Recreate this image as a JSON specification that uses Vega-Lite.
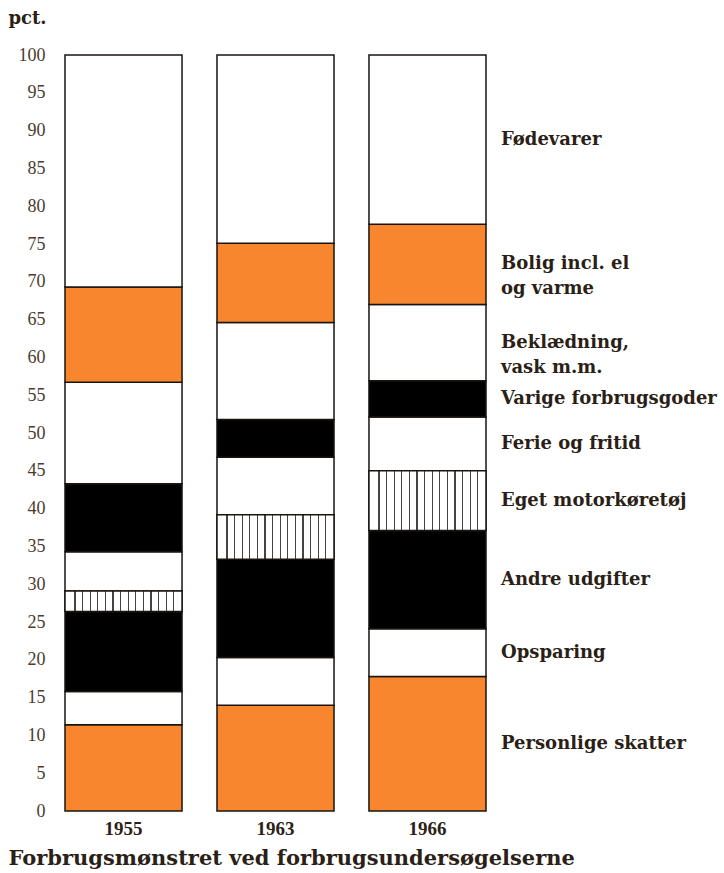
{
  "$schema": "https://vega.github.io/schema/vega-lite/v6.json",
  "width": 421,
  "height": 756,
  "autosize": {"type": "none"},
  "padding": {"left": 65, "top": 55, "right": 238, "bottom": 62},
  "background": "white",
  "config": {
    "view": {"stroke": null},
    "axisY": {
      "tickCount": 20,
      "labelOverlap": false,
      "labelBound": false,
      "labelFlush": false,
      "labelFont": "Liberation Serif",
      "labelFontSize": 18,
      "labelColor": "#4a3b2f",
      "labelPadding": 20,
      "domain": false,
      "ticks": false,
      "grid": false,
      "titleFont": "DejaVu Serif",
      "titleFontWeight": "bold",
      "titleFontSize": 18,
      "titleColor": "#2b1f17",
      "titleAngle": 0,
      "titleX": -57,
      "titleY": -37,
      "titleAlign": "left",
      "titleBaseline": "middle"
    }
  },
  "data": {
    "values": [
      {"year": "1955", "kategori": "Personlige skatter", "rank": 1, "value": 11.4},
      {"year": "1955", "kategori": "Opsparing", "rank": 2, "value": 4.4},
      {"year": "1955", "kategori": "Andre udgifter", "rank": 3, "value": 10.6},
      {"year": "1955", "kategori": "Eget motorkøretøj", "rank": 4, "value": 2.7},
      {"year": "1955", "kategori": "Ferie og fritid", "rank": 5, "value": 5.2},
      {"year": "1955", "kategori": "Varige forbrugsgoder", "rank": 6, "value": 9.0},
      {"year": "1955", "kategori": "Beklædning,\nvask m.m.", "rank": 7, "value": 13.4},
      {"year": "1955", "kategori": "Bolig incl. el\nog varme", "rank": 8, "value": 12.6},
      {"year": "1955", "kategori": "Fødevarer", "rank": 9, "value": 30.7},
      {"year": "1963", "kategori": "Personlige skatter", "rank": 1, "value": 14.0},
      {"year": "1963", "kategori": "Opsparing", "rank": 2, "value": 6.3},
      {"year": "1963", "kategori": "Andre udgifter", "rank": 3, "value": 13.0},
      {"year": "1963", "kategori": "Eget motorkøretøj", "rank": 4, "value": 5.9},
      {"year": "1963", "kategori": "Ferie og fritid", "rank": 5, "value": 7.6},
      {"year": "1963", "kategori": "Varige forbrugsgoder", "rank": 6, "value": 5.0},
      {"year": "1963", "kategori": "Beklædning,\nvask m.m.", "rank": 7, "value": 12.8},
      {"year": "1963", "kategori": "Bolig incl. el\nog varme", "rank": 8, "value": 10.5},
      {"year": "1963", "kategori": "Fødevarer", "rank": 9, "value": 24.9},
      {"year": "1966", "kategori": "Personlige skatter", "rank": 1, "value": 17.8},
      {"year": "1966", "kategori": "Opsparing", "rank": 2, "value": 6.3},
      {"year": "1966", "kategori": "Andre udgifter", "rank": 3, "value": 13.0},
      {"year": "1966", "kategori": "Eget motorkøretøj", "rank": 4, "value": 7.9},
      {"year": "1966", "kategori": "Ferie og fritid", "rank": 5, "value": 7.1},
      {"year": "1966", "kategori": "Varige forbrugsgoder", "rank": 6, "value": 4.8},
      {"year": "1966", "kategori": "Beklædning,\nvask m.m.", "rank": 7, "value": 10.1},
      {"year": "1966", "kategori": "Bolig incl. el\nog varme", "rank": 8, "value": 10.6},
      {"year": "1966", "kategori": "Fødevarer", "rank": 9, "value": 22.4}
    ]
  },
  "transform": [
    {"stack": "value", "groupby": ["year"], "sort": [{"field": "rank", "order": "ascending"}], "as": ["y0", "y1"]}
  ],
  "encoding": {
    "x": {
      "field": "year",
      "type": "nominal",
      "sort": ["1955", "1963", "1966"],
      "scale": {"paddingInner": 0.23, "paddingOuter": 0},
      "axis": {
        "title": "Forbrugsmønstret ved forbrugsundersøgelserne",
        "titleFont": "DejaVu Serif",
        "titleFontWeight": "bold",
        "titleFontSize": 21,
        "titleColor": "#2b1f17",
        "titleX": -57,
        "titleY": 47,
        "titleAlign": "left",
        "titleBaseline": "middle",
        "labelAngle": 0,
        "labelFont": "Liberation Serif",
        "labelFontWeight": "bold",
        "labelFontSize": 19,
        "labelColor": "#2b1f17",
        "labelPadding": 8,
        "domain": false,
        "ticks": false,
        "grid": false
      }
    }
  },
  "layer": [
    {
      "mark": {"type": "bar", "stroke": "#1a1410", "strokeWidth": 1.5},
      "encoding": {
        "y": {
          "field": "y0",
          "type": "quantitative",
          "title": "pct.",
          "scale": {"domain": [0, 100], "nice": false}
        },
        "y2": {"field": "y1"},
        "fill": {
          "field": "kategori",
          "type": "nominal",
          "scale": {
            "domain": ["Personlige skatter", "Opsparing", "Andre udgifter", "Eget motorkøretøj", "Ferie og fritid", "Varige forbrugsgoder", "Beklædning,\nvask m.m.", "Bolig incl. el\nog varme", "Fødevarer"],
            "range": ["#f7862f", "#ffffff", "#000000", "#ffffff", "#ffffff", "#000000", "#ffffff", "#f7862f", "#ffffff"]
          },
          "legend": null
        }
      }
    },
    {
      "transform": [{"filter": "datum.kategori === 'Eget motorkøretøj'"}],
      "mark": {
        "type": "bar",
        "stroke": "#1a1410",
        "strokeWidth": 1.5,
        "fill": {
          "gradient": "linear", "x1": 0, "x2": 1, "y1": 0, "y2": 0,
          "stops": [
            {"offset": 0, "color": "#ffffff"},
            {"offset": 0.0805, "color": "#ffffff"}, {"offset": 0.0805, "color": "#444444"}, {"offset": 0.0905, "color": "#444444"}, {"offset": 0.0905, "color": "#ffffff"},
            {"offset": 0.1454, "color": "#ffffff"}, {"offset": 0.1454, "color": "#444444"}, {"offset": 0.1554, "color": "#444444"}, {"offset": 0.1554, "color": "#ffffff"},
            {"offset": 0.2104, "color": "#ffffff"}, {"offset": 0.2104, "color": "#444444"}, {"offset": 0.2204, "color": "#444444"}, {"offset": 0.2204, "color": "#ffffff"},
            {"offset": 0.2753, "color": "#ffffff"}, {"offset": 0.2753, "color": "#444444"}, {"offset": 0.2853, "color": "#444444"}, {"offset": 0.2853, "color": "#ffffff"},
            {"offset": 0.3403, "color": "#ffffff"}, {"offset": 0.3403, "color": "#444444"}, {"offset": 0.3503, "color": "#444444"}, {"offset": 0.3503, "color": "#ffffff"},
            {"offset": 0.4053, "color": "#ffffff"}, {"offset": 0.4053, "color": "#444444"}, {"offset": 0.4153, "color": "#444444"}, {"offset": 0.4153, "color": "#ffffff"},
            {"offset": 0.4702, "color": "#ffffff"}, {"offset": 0.4702, "color": "#444444"}, {"offset": 0.4802, "color": "#444444"}, {"offset": 0.4802, "color": "#ffffff"},
            {"offset": 0.5352, "color": "#ffffff"}, {"offset": 0.5352, "color": "#444444"}, {"offset": 0.5452, "color": "#444444"}, {"offset": 0.5452, "color": "#ffffff"},
            {"offset": 0.6001, "color": "#ffffff"}, {"offset": 0.6001, "color": "#444444"}, {"offset": 0.6101, "color": "#444444"}, {"offset": 0.6101, "color": "#ffffff"},
            {"offset": 0.6651, "color": "#ffffff"}, {"offset": 0.6651, "color": "#444444"}, {"offset": 0.6751, "color": "#444444"}, {"offset": 0.6751, "color": "#ffffff"},
            {"offset": 0.7300, "color": "#ffffff"}, {"offset": 0.7300, "color": "#444444"}, {"offset": 0.7400, "color": "#444444"}, {"offset": 0.7400, "color": "#ffffff"},
            {"offset": 0.7950, "color": "#ffffff"}, {"offset": 0.7950, "color": "#444444"}, {"offset": 0.8050, "color": "#444444"}, {"offset": 0.8050, "color": "#ffffff"},
            {"offset": 0.8600, "color": "#ffffff"}, {"offset": 0.8600, "color": "#444444"}, {"offset": 0.8700, "color": "#444444"}, {"offset": 0.8700, "color": "#ffffff"},
            {"offset": 0.9249, "color": "#ffffff"}, {"offset": 0.9249, "color": "#444444"}, {"offset": 0.9349, "color": "#444444"}, {"offset": 0.9349, "color": "#ffffff"},
            {"offset": 1, "color": "#ffffff"}
          ]
        }
      },
      "encoding": {
        "y": {"field": "y0", "type": "quantitative", "title": "pct."},
        "y2": {"field": "y1"}
      }
    },
    {
      "transform": [
        {"filter": "datum.year === '1966'"},
        {"calculate": "(datum.y0 + datum.y1) / 2", "as": "mid"}
      ],
      "mark": {
        "type": "text",
        "align": "left",
        "baseline": "middle",
        "dx": 15,
        "lineBreak": "\n",
        "lineHeight": 25,
        "font": "DejaVu Serif",
        "fontWeight": "bold",
        "fontSize": 18,
        "color": "#2b1f17"
      },
      "encoding": {
        "x": {"field": "year", "type": "nominal", "bandPosition": 1},
        "y": {"field": "mid", "type": "quantitative", "title": "pct."},
        "text": {"field": "kategori"}
      }
    }
  ]
}
